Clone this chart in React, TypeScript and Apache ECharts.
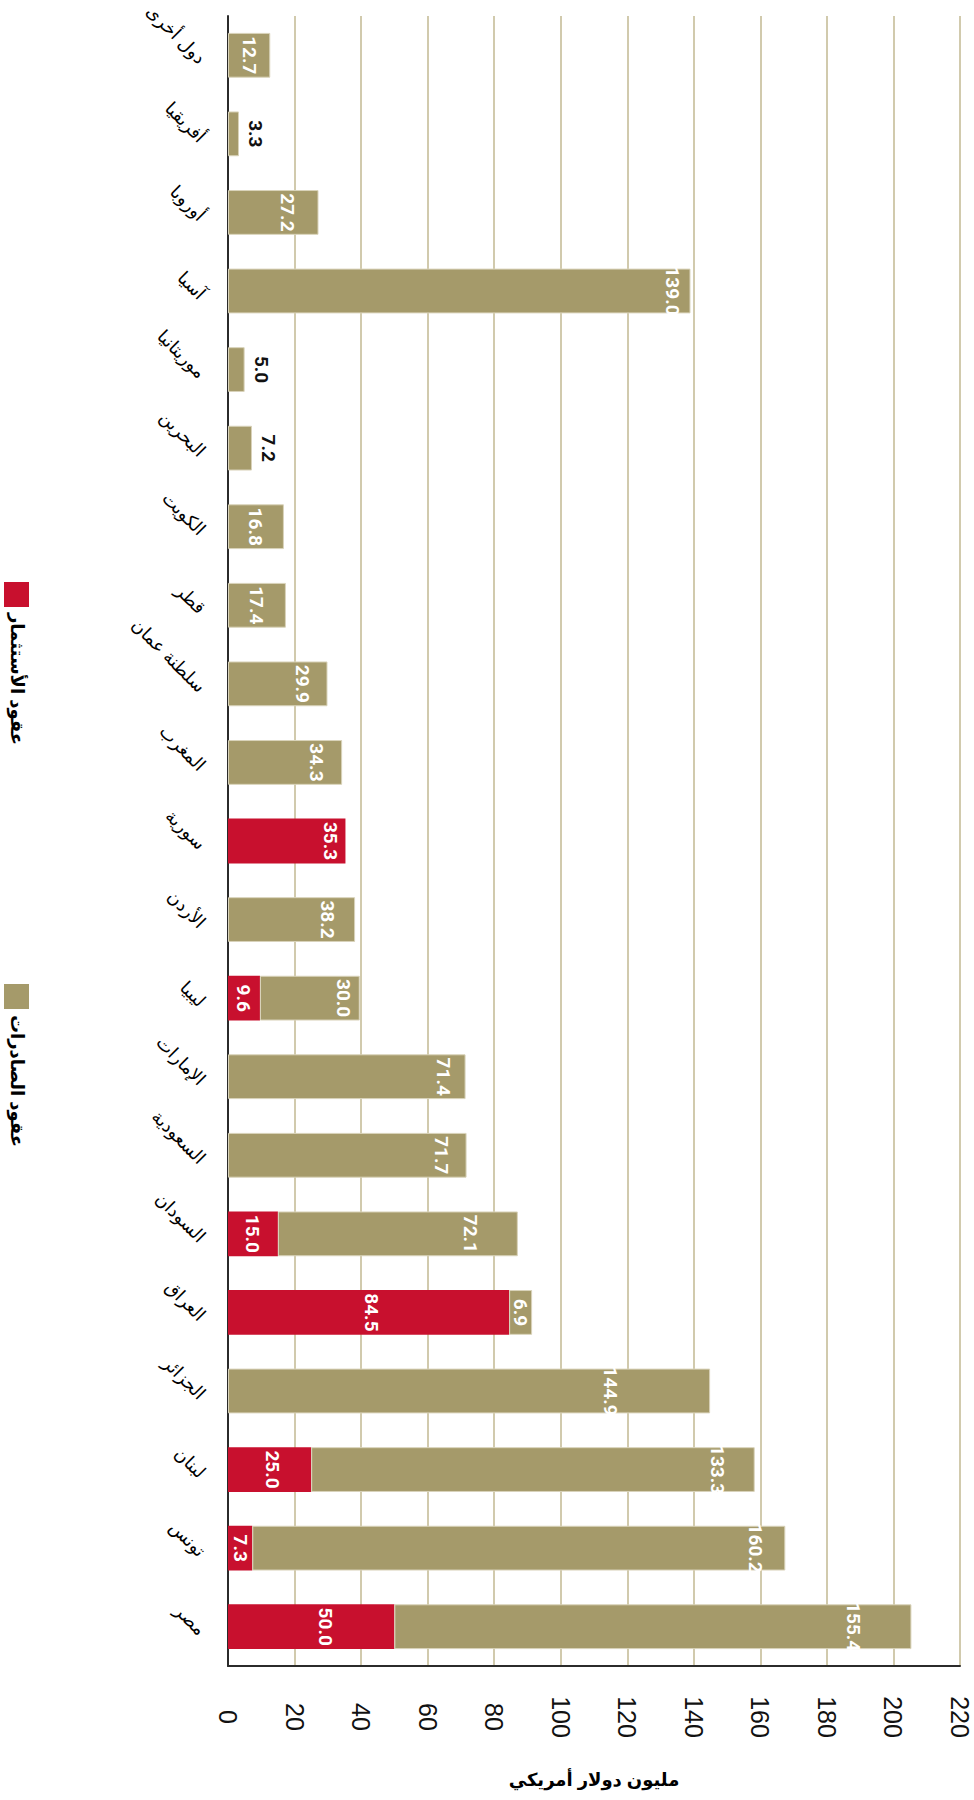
import React, { useEffect, useRef } from "react";
import * as echarts from "echarts";

// Categories, bottom (first) to top (last)
const categories = [
  "مصر",
  "تونس",
  "لبنان",
  "الجزائر",
  "العراق",
  "السودان",
  "السعودية",
  "الإمارات",
  "ليبيا",
  "الأردن",
  "سورية",
  "المغرب",
  "سلطنة عمان",
  "قطر",
  "الكويت",
  "البحرين",
  "موريتانيا",
  "آسيا",
  "أوروبا",
  "أفريقيا",
  "دول أخرى",
];

// عقود الأستثمار (million USD)
const investmentContracts: (number | null)[] = [
  50.0, 7.3, 25.0, null, 84.5, 15.0, null, null, 9.6, null, 35.3, null, null,
  null, null, null, null, null, null, null, null,
];

// عقود الصادرات (million USD)
const exportContracts: (number | null)[] = [
  155.4, 160.2, 133.3, 144.9, 6.9, 72.1, 71.7, 71.4, 30.0, 38.2, null, 34.3,
  29.9, 17.4, 16.8, 7.2, 5.0, 139.0, 27.2, 3.3, 12.7,
];

const seriesNames = ["عقود الأستثمار", "عقود الصادرات"];
const axisTitle = "مليون دولار أمريكي";
const valueMin = 0;
const valueMax = 220;
const valueInterval = 20;

// ---- styling (label placement as in the original artwork) ----
const RED = "#C8102E";
const OLIVE = "#A59A6A";
const GRID_LINE = "#C2B992";
const AXIS_DARK = "#2b2b2b";
const ARABIC_FONT = 'Arial, "DejaVu Sans", "Noto Sans", sans-serif';
const NUM_FONT = '"Liberation Sans Narrow", "Roboto", Arial, sans-serif';

// distance (px) of the export label centre from the bar end; "c" = centred in segment
const exportLabelInset: Record<string, number | "c"> = {
  "مصر": 58,
  "تونس": 30,
  "لبنان": 37,
  "الجزائر": 100,
  "العراق": "c",
  "السودان": 47,
  "السعودية": 25,
  "الإمارات": 22,
  "ليبيا": 16,
  "الأردن": 28,
  "المغرب": 26,
  "سلطنة عمان": 25,
  "قطر": "c",
  "الكويت": "c",
  "آسيا": 18,
  "أوروبا": 31,
  "دول أخرى": "c",
};
// investment label: rightward shift (px) from segment centre, or inset from end
const investLabelShift: Record<string, number> = { "مصر": 14, "العراق": 3, "لبنان": 3 };
const investLabelInset: Record<string, number> = { "سورية": 15 };

export default function App() {
  const ref = useRef<HTMLDivElement>(null);

  useEffect(() => {
    if (!ref.current) return;
    const chart = echarts.init(ref.current, undefined, { renderer: "svg" });

    const fmt = (p: any) =>
      p.value === null || p.value === undefined ? "" : Number(p.value).toFixed(1);

    const baseLabel = {
      show: true,
      rotate: -90,
      align: "center",
      verticalAlign: "middle",
      color: "#ffffff",
      fontFamily: NUM_FONT,
      fontWeight: "bold",
      fontSize: 19,
      formatter: fmt,
    };

    const exportData = exportContracts.map((v, i) => {
      if (v === null) return { value: null };
      const small = v < 10 && !investmentContracts[i];
      if (small) {
        return { value: v, label: { position: "right", distance: 17, color: "#111111" } };
      }
      const inset = exportLabelInset[categories[i]];
      if (inset === "c" || inset === undefined) {
        return { value: v, label: { position: "inside", color: "#ffffff" } };
      }
      return { value: v, label: { position: "insideRight", distance: inset, color: "#ffffff" } };
    });

    const investData = investmentContracts.map((v, i) => {
      if (v === null) return { value: null };
      const name = categories[i];
      if (investLabelInset[name] !== undefined) {
        return { value: v, label: { position: "insideRight", distance: investLabelInset[name] } };
      }
      // label is rotated -90deg, so a screen-right shift is a negative local y offset
      return {
        value: v,
        label: { position: "inside", offset: [0, -(investLabelShift[name] || 0)] },
      };
    });

    const legendGraphics: any[] = [
      { type: "rect", x: 4, y: 582, shape: { width: 25, height: 25 }, style: { fill: RED } },
      {
        type: "text",
        x: 17,
        y: 613,
        rotation: -Math.PI / 2,
        style: {
          text: seriesNames[0],
          fill: "#000",
          fontFamily: ARABIC_FONT,
          fontWeight: "bold",
          fontSize: 18,
          align: "left",
          verticalAlign: "middle",
        },
      },
      { type: "rect", x: 4, y: 984, shape: { width: 25, height: 25 }, style: { fill: OLIVE } },
      {
        type: "text",
        x: 17,
        y: 1015,
        rotation: -Math.PI / 2,
        style: {
          text: seriesNames[1],
          fill: "#000",
          fontFamily: ARABIC_FONT,
          fontWeight: "bold",
          fontSize: 18,
          align: "left",
          verticalAlign: "middle",
        },
      },
    ];

    chart.setOption({
      animation: false,
      backgroundColor: "#ffffff",
      grid: {
        left: 228,
        right: 14,
        top: 16,
        bottom: 134,
        containLabel: false,
        outerBoundsMode: "none",
      },
      xAxis: {
        type: "value",
        min: valueMin,
        max: valueMax,
        interval: valueInterval,
        position: "bottom",
        name: axisTitle,
        nameLocation: "middle",
        nameGap: 105,
        nameTextStyle: {
          fontFamily: ARABIC_FONT,
          fontWeight: "bold",
          fontSize: 18,
          color: "#000",
        },
        axisLine: { show: true, lineStyle: { color: AXIS_DARK, width: 2 } },
        axisTick: { show: false },
        splitLine: { show: true, lineStyle: { color: GRID_LINE, width: 1.5 } },
        axisLabel: {
          rotate: -90,
          align: "center",
          verticalAlign: "middle",
          margin: 51,
          fontSize: 25,
          color: "#111",
          fontFamily: 'Arial, "Liberation Sans", sans-serif',
        },
      },
      yAxis: {
        type: "category",
        data: categories,
        axisLine: { show: true, lineStyle: { color: AXIS_DARK, width: 2 } },
        axisTick: { show: false },
        splitLine: { show: false },
        axisLabel: {
          interval: 0,
          rotate: -45,
          margin: 20,
          fontSize: 18,
          lineHeight: 16,
          verticalAlign: "top",
          color: "#000",
          fontFamily: ARABIC_FONT,
        },
      },
      series: [
        {
          name: seriesNames[0],
          type: "bar",
          stack: "total",
          barWidth: "57%",
          itemStyle: { color: RED },
          label: { ...baseLabel, position: "inside" },
          data: investData,
        },
        {
          name: seriesNames[1],
          type: "bar",
          stack: "total",
          barWidth: "57%",
          itemStyle: { color: OLIVE, borderColor: "#D9D3BA", borderWidth: 1 },
          label: { ...baseLabel },
          data: exportData,
        },
      ],
      graphic: legendGraphics,
    });

    return () => chart.dispose();
  }, []);

  return (
    <div
      ref={ref}
      style={{ position: "absolute", left: 0, top: 0, width: 974, height: 1800 }}
    />
  );
}
